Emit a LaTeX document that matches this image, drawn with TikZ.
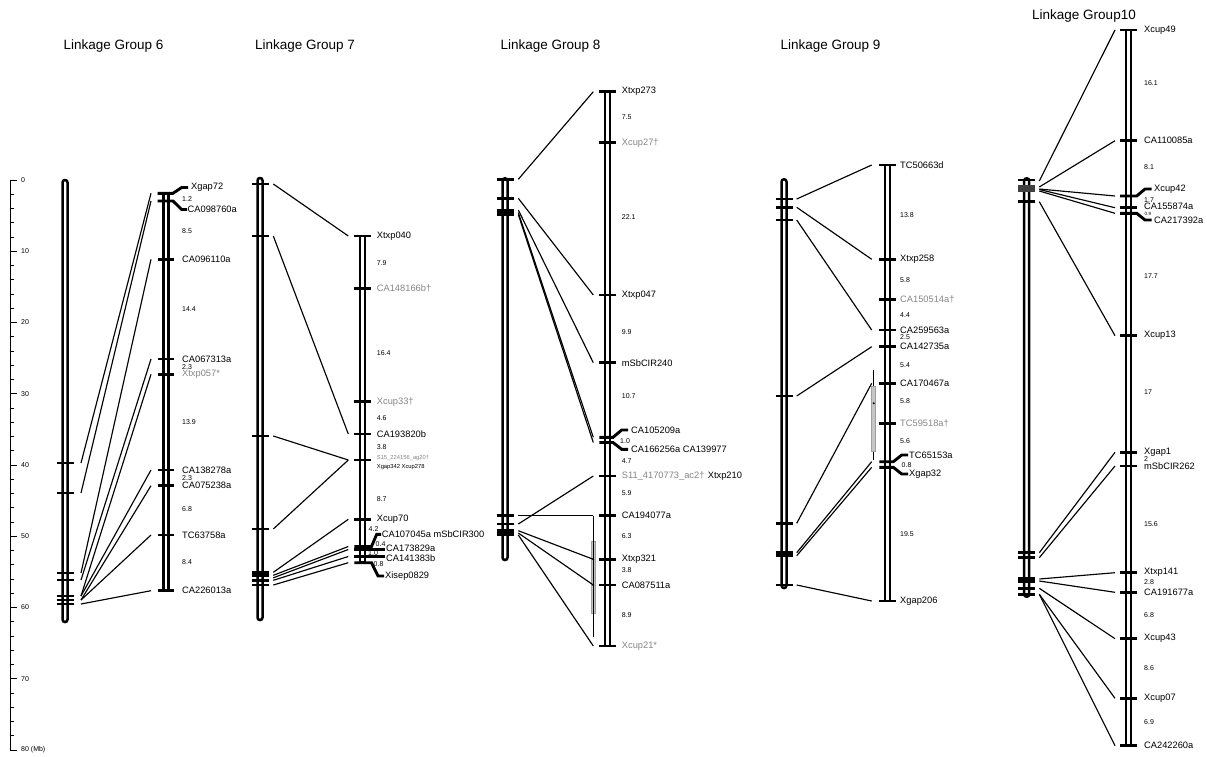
\documentclass[tikz,border=0pt]{standalone}
\usepackage{fontspec}
\setmainfont{Liberation Sans}
\definecolor{mgray}{gray}{0.52}
\tikzset{
 chrom/.style={draw=black,line width=2.5pt,fill=white},
 lchrom/.style={chrom,rounded corners=2.4pt},
 tickbar/.style={line width=2.9pt},
 link/.style={line width=1.15pt},
 lab/.style={anchor=west,inner sep=0pt,font=\fontsize{9.3}{10}\selectfont},
 num/.style={anchor=west,inner sep=0pt,font=\fontsize{7}{8}\selectfont},
 tinylab/.style={anchor=west,inner sep=0pt,font=\fontsize{5.8}{6}\selectfont},
 ttl/.style={inner sep=0pt,font=\fontsize{13.5}{15}\selectfont},
 axl/.style={anchor=west,inner sep=0pt,font=\fontsize{7}{8}\selectfont},
 hatchbox/.style={draw=gray!75,line width=0.6pt,fill=gray!45},
}
\newcommand\LeftTicks[2]{\foreach \y in {#2} {\draw[tickbar] (#1-8.5,\y) -- (#1+8.5,\y);}}
\newcommand\RightMarks[4]{\foreach \y/\t/\c [count=\i] in {#4} {\draw[tickbar] (#2-8.3,\y) -- (#2+8.3,\y); \node[lab,text=\c] (#1m\i) at (#3,\y) {\t};}}
\newcommand\Intervals[3]{\foreach \y/\t [count=\i] in {#3} {\node[num] (#1n\i) at (#2,\y) {\t};}}
\newcommand\Links[4]{\foreach \a/\b [count=\i] in {#4} {\coordinate (#1a\i) at (#2,\a); \coordinate (#1b\i) at (#3,\b); \draw[link] (#1a\i) -- (#1b\i);}}
\begin{document}
\begin{tikzpicture}[x=1pt,y=-1pt]
\useasboundingbox (0,0) rectangle (1207,756);
% ---------- axis ----------
\draw[line width=0.9pt] (10,180) -- (10,750);
\foreach \k in {0,...,40} {\pgfmathsetmacro\yy{180+14.25*\k} \draw[line width=0.9pt] (10,\yy) -- (14,\yy);}
\foreach \k/\t in {0/0,1/10,2/20,3/30,4/40,5/50,6/60,7/70,8/80 (Mb)} {\pgfmathsetmacro\yy{180+71.25*\k} \draw[line width=0.9pt] (10,\yy) -- (17,\yy); \node[axl] (ax\k) at (21,\yy) {\t};}
% ---------- titles ----------
\node[ttl] (t6) at (113.5,46) {Linkage Group 6};
\node[ttl] (t7) at (305,46) {Linkage Group 7};
\node[ttl] (t8) at (550.5,46) {Linkage Group 8};
\node[ttl] (t9) at (830.5,46) {Linkage Group 9};
\node[ttl] (t10) at (1084,16) {Linkage Group10};
% ================= Group 6 =================
\draw[lchrom] (62.5,180) rectangle (67.5,622);
\draw[chrom] (163.5,193.3) rectangle (168.5,590.7);
\LeftTicks{65}{463,493,573,580,596,600,604}
\RightMarks{gsix}{166}{182}{259.3/CA096110a/black, 359/CA067313a/black, 374.3/Xtxp057*/mgray, 470/CA138278a/black, 485.7/CA075238a/black, 535/TC63758a/black, 590.7/CA226013a/black}
\draw[tickbar] (157.7,193.3) -- (173,193.3) -- (181.7,187.5) -- (188,187.5);
\node[lab] (gsixx1) at (191,187.5) {Xgap72};
\draw[tickbar] (157.7,201) -- (173,201) -- (181.7,209.5) -- (187,209.5);
\node[lab] (gsixx2) at (187.5,209.5) {CA098760a};
\Intervals{gsix}{182}{199.3/1.2, 231/8.5, 309/14.4, 367/2.3, 421.7/13.9, 478/2.3, 509.3/6.8, 561.7/8.4}
\Links{gsix}{81}{151}{463/193.3, 493/201, 573/259.3, 580/359, 596/374.3, 596/470, 600/485.7, 600/535, 604/590.7}
% ================= Group 7 =================
\draw[lchrom] (257.5,178) rectangle (262.5,620);
\draw[chrom] (360.2,236) rectangle (365.2,562.7);
\LeftTicks{260}{184,236,436,529,572.3,575.3,580.3,585}
\RightMarks{gsev}{362.7}{376.7}{236/Xtxp040/black, 288.7/CA148166b†/mgray, 401.7/Xcup33†/mgray, 434/CA193820b/black, 519.3/Xcup70/black}
\draw[tickbar] (354.4,460) -- (371,460);
\node[tinylab,text=mgray] (gsevs1) at (376.7,458) {S15\_224156\_ag20†};
\node[tinylab] (gsevs2) at (376.7,467.5) {Xgap342 Xcup278};
\draw[tickbar] (354.4,546.5) -- (371.5,546.5) -- (376.7,534.3) -- (381,534.3);
\node[lab] (gsevx1) at (381.7,534.3) {CA107045a mSbCIR300};
\draw[tickbar] (354.4,549.5) -- (385,549.5);
\node[lab] (gsevx2) at (386,548.3) {CA173829a};
\draw[tickbar] (354.4,556.5) -- (385,556.5);
\node[lab] (gsevx3) at (386,557.7) {CA141383b};
\draw[tickbar] (354.4,562.7) -- (371.5,562.7) -- (378,576) -- (384,576);
\node[lab] (gsevx4) at (385,576) {Xisep0829};
\Intervals{gsev}{376.7}{263.3/7.9, 352.7/16.4, 417.7/4.6, 447.3/3.8, 498.7/8.7}
\node[num] (gsevy1) at (368.5,528.7) {4.2};
\node[num] (gsevy2) at (375.5,544.3) {0.4};
\node[num] (gsevy3) at (368,553.5) {1.0};
\node[num] (gsevy4) at (373.5,564.5) {0.8};
\Links{gsev}{273.3}{348.3}{184/236, 236/434, 436/460, 529/460, 572.3/519.3, 575.3/546.5, 577.8/549.5, 580.3/556.5, 585/562.7}
% ================= Group 8 =================
\draw[lchrom] (502.5,178.3) rectangle (507.5,560);
\draw[chrom] (605.2,91.7) rectangle (610.2,646);
\LeftTicks{505}{179.3,198.3,210,212.5,215,515.7,524,530.7,533,535}
\RightMarks{geig}{607.7}{621.7}{91.7/Xtxp273/black, 142.7/Xcup27†/mgray, 295/Xtxp047/black, 362.7/mSbCIR240/black, 515.7/CA194077a/black, 559.3/Xtxp321/black, 585/CA087511a/black, 646/Xcup21*/mgray}
\draw[tickbar] (599.4,476) -- (616,476);
\node[lab,text=mgray] (geigs1) at (621.7,476) {S11\_4170773\_ac2†};
\node[lab,anchor=west] (geigs2) at ([xshift=3pt]geigs1.east) {Xtxp210};
\draw[tickbar] (599.4,437.3) -- (613,437.3) -- (621.7,430) -- (628,430);
\node[lab] (geigx1) at (631,430) {CA105209a};
\draw[tickbar] (599.4,442.5) -- (613,442.5) -- (621.7,449.3) -- (628,449.3);
\node[lab] (geigx2) at (631,449.3) {CA166256a CA139977};
\Intervals{geig}{621.7}{116.7/7.5, 216.7/22.1, 331.7/9.9, 396/10.7, 460.7/4.7, 493.3/5.9, 536/6.3, 570/3.8, 615/8.9}
\node[num] (geigy1) at (620,441) {1.0};
\node[hatchbox,minimum width=4pt,minimum height=71.6pt,inner sep=0pt] (geigbox) at (593.3,577.5) {};
\Links{geig}{518.3}{593.3}{179.3/91.7, 198.3/295, 210/362.7, 212.5/437.3, 214.5/442.5, 515.7/515.7, 524/476, 530.7/559.3, 533/585, 535/646}
\coordinate (geigv) at (593.3,636.7);
\draw[line width=0.8pt] (geigb6) -- (geigv);
\fill (geigb8) circle (1.1pt);
\fill (geigb9) circle (1.1pt);
% ================= Group 9 =================
\draw[lchrom] (781.5,179.3) rectangle (786.5,588);
\draw[chrom] (885.2,165) rectangle (890.2,601);
\LeftTicks{784}{199,207.3,220,396,523.3,552.7,555.7,585}
\RightMarks{gnin}{887.7}{900}{165/TC50663d/black, 259.3/Xtxp258/black, 299.3/CA150514a†/mgray, 330/CA259563a/black, 346.7/CA142735a/black, 383.3/CA170467a/black, 423.3/TC59518a†/mgray, 601/Xgap206/black}
\draw[tickbar] (879.4,461.7) -- (893.3,461.7) -- (901.7,455) -- (908,455);
\node[lab] (gninx1) at (909,455) {TC65153a};
\draw[tickbar] (879.4,467.3) -- (893.3,467.3) -- (901.7,474) -- (908,474);
\node[lab] (gninx2) at (909,474) {Xgap32};
\Intervals{gnin}{900}{215/13.8, 280/5.8, 315/4.4, 336.7/2.5, 365/5.4, 400.7/5.8, 440.7/5.6, 534/19.5}
\node[num] (gniny1) at (901.5,465) {0.8};
\coordinate (gnint) at (873.7,370);
\coordinate (gninu) at (873.7,460);
\draw[line width=0.8pt] (gnint) -- (gninu);
\node[hatchbox,minimum width=4pt,minimum height=65.7pt,inner sep=0pt] (gninbox) at (873.5,418.8) {};
\fill (873.7,403.3) circle (1.1pt);
\Links{gnin}{796.7}{871.7}{199/165, 207.3/259.3, 220/330, 396/346.7, 523.3/383.3, 552.7/461.7, 555.7/467.3, 585/601}
% ================= Group 10 =================
\draw[lchrom] (1024.2,178.3) rectangle (1029.2,596.7);
\draw[chrom] (1125.8,30) rectangle (1130.8,745.7);
\LeftTicks{1026.7}{180,201.7,552.7,557.7,578,580,581.7,588.3,594.3}
\foreach \y in {186.7,188.7,190.7} {\draw[tickbar,draw=black!75] (1018.2,\y) -- (1035.2,\y);}
\RightMarks{gten}{1128.3}{1144}{30/Xcup49/black, 140.7/CA110085a/black, 335.7/Xcup13/black, 452.3/Xgap1/black, 466/mSbCIR262/black, 572.7/Xtxp141/black, 592.3/CA191677a/black, 638.7/Xcup43/black, 698.3/Xcup07/black, 745.7/CA242260a/black}
\draw[tickbar] (1120,207.7) -- (1136.6,207.7);
\node[lab] (gtenx3) at (1144,206) {CA155874a};
\draw[tickbar] (1120,196) -- (1136.7,196) -- (1145,189) -- (1151.7,189);
\node[lab] (gtenx1) at (1154,189) {Xcup42};
\draw[tickbar] (1120,213.3) -- (1136.7,213.3) -- (1145,220) -- (1151.7,220);
\node[lab] (gtenx2) at (1154,220) {CA217392a};
\Intervals{gten}{1144}{83.3/16.1, 166.7/8.1, 200/1.7, 276/17.7, 391.7/17, 459/2, 524/15.6, 581.7/2.8, 615/6.8, 668.3/8.6, 721.7/6.9}
\node[anchor=west,inner sep=0pt,font=\fontsize{4.6}{5}\selectfont] (gteny1) at (1144.5,213.8) {0.9};
\Links{gten}{1039.3}{1115}{181/30, 187/140.7, 189/196, 189.5/207.7, 191/213.3, 201.7/335.7, 552.7/452.3, 557.7/466, 579/572.7, 581/592.3, 588.3/638.7, 594.3/698.3, 594.3/745.7}
\end{tikzpicture}
\end{document}
